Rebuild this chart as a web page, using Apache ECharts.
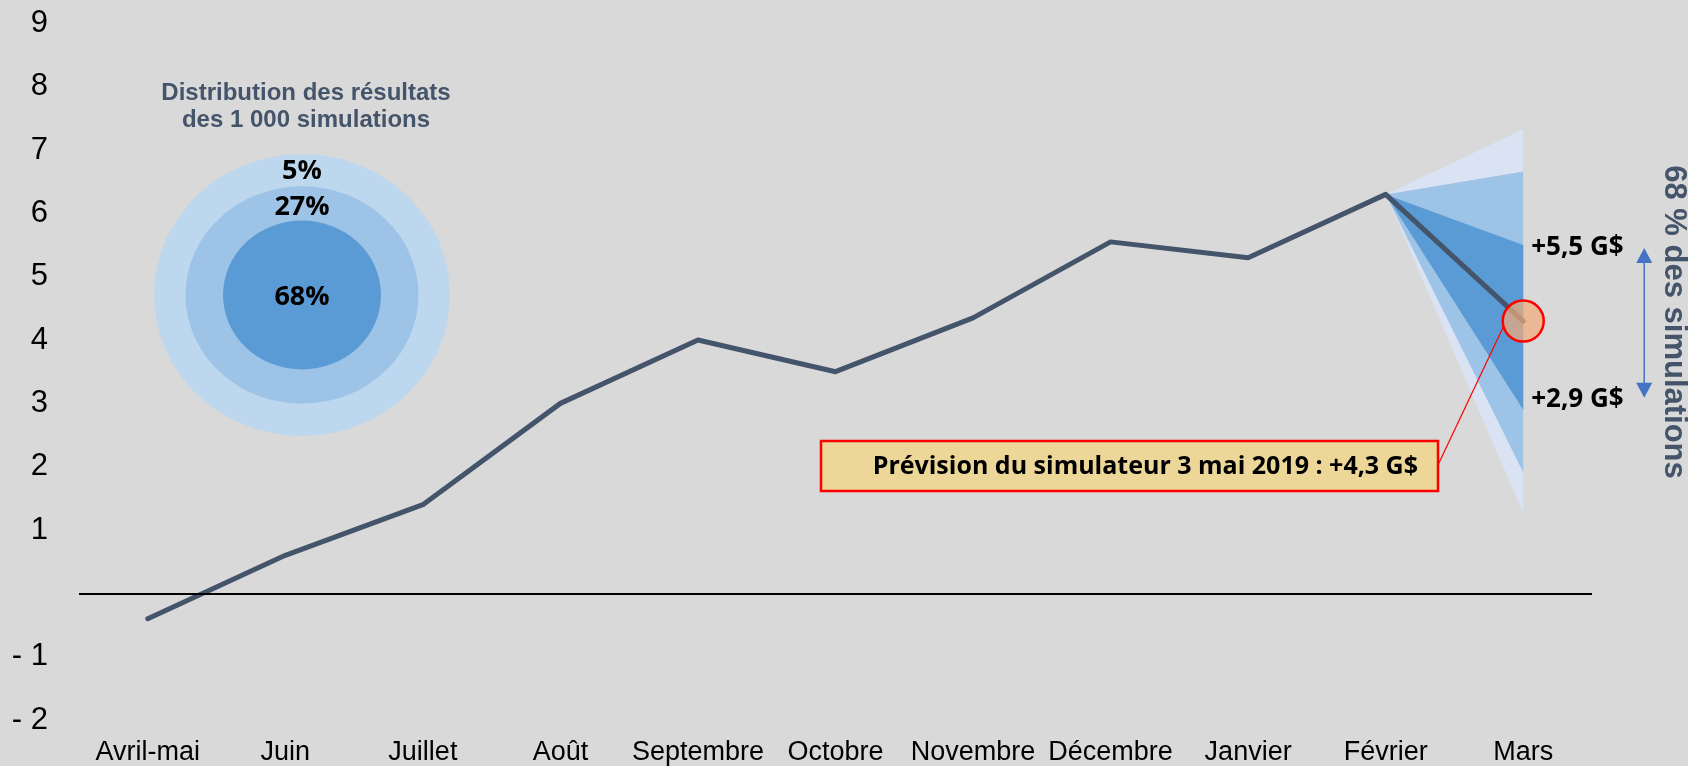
<!DOCTYPE html>
<html>
<head>
<meta charset="utf-8">
<script src="https://cdn.jsdelivr.net/npm/echarts@6/dist/echarts.min.js"></script>
<style>
html,body{margin:0;padding:0;background:#d9d9d9;}
#c{width:1688px;height:766px;}
</style>
</head>
<body>
<div id="c"></div>
<script>
// ---- data ----
const months = ['Avril-mai','Juin','Juillet','Août','Septembre','Octobre','Novembre','Décembre','Janvier','Février','Mars'];
const values = [-0.4, 0.6, 1.4, 3.0, 4.0, 3.5, 4.35, 5.55, 5.3, 6.3, 4.3];
const fanTop = [7.33, 6.66, 5.5];      // 5 %, 27 %, 68 % band upper ends (Mars)
const fanBottom = [1.27, 1.91, 2.9];   // band lower ends (Mars)
const bandShares = ['5%', '27%', '68%'];
const yTicks = [-2, -1, 0, 1, 2, 3, 4, 5, 6, 7, 8, 9];
const forecast = 4.3;
const rangeHigh = 5.5, rangeLow = 2.9;
const calloutText = 'Prévision du simulateur 3 mai 2019 : +4,3 G$';
const legendTitle = ['Distribution des résultats', 'des 1 000 simulations'];
const sideTitle = '68 % des simulations';

const fanColors = ['#dae3f3', '#9dc3e6', '#5b9bd5'];
const ringColors = ['#bdd7ee', '#9dc3e6', '#5b9bd5'];
const narrow = '"Open Sans", sans-serif';

const chart = echarts.init(document.getElementById('c'));
const last = months.length - 1;

chart.setOption({
  backgroundColor: '#d9d9d9',
  animation: false,
  grid: { left: 79, right: 96, top: 23.4, bottom: 45, containLabel: false },
  xAxis: {
    type: 'category', data: months, boundaryGap: true,
    axisLine: { show: false }, axisTick: { show: false },
    axisLabel: { color: '#000', fontSize: 27, fontFamily: '"Liberation Sans", Arial, sans-serif', margin: 19, interval: 0 }
  },
  yAxis: {
    type: 'value', min: yTicks[0], max: yTicks[yTicks.length - 1], interval: 1,
    splitLine: { show: false }, axisLine: { show: false }, axisTick: { show: false },
    axisLabel: {
      color: '#000', fontSize: 31, fontFamily: '"Liberation Sans", Arial, sans-serif', margin: 31,
      formatter: v => v === 0 ? '' : (v < 0 ? '- ' + (-v) : String(v))
    }
  },
  series: [
    {
      type: 'custom', z: 1, silent: true,
      data: fanTop.map((t, i) => [last, t, fanBottom[i], i]),
      encode: { x: 0, y: 1 },
      renderItem: (params, api) => {
        const i = api.value(3);
        const o = api.coord([last - 1, values[last - 1]]);
        const a = api.coord([last, api.value(1)]);
        const b = api.coord([last, api.value(2)]);
        return { type: 'polygon', shape: { points: [o, a, b] }, style: { fill: fanColors[i] } };
      }
    },
    {
      type: 'line', data: values, z: 3, symbol: 'none', silent: true,
      lineStyle: { color: '#44546a', width: 5, cap: 'round', join: 'round' },
      markLine: {
        silent: true, symbol: 'none', label: { show: false },
        lineStyle: { color: '#000', width: 2, type: 'solid' },
        data: [{ yAxis: 0 }]
      }
    },
    {
      type: 'scatter', z: 4, silent: true,
      data: [[last, forecast]], symbolSize: 41,
      itemStyle: { color: 'rgba(240,170,120,0.72)', borderColor: '#ff0000', borderWidth: 2.5, opacity: 1 }
    }
  ]
});

function px(x, y) { return chart.convertToPixel({ xAxisIndex: 0, yAxisIndex: 0 }, [x, y]); }
const pHi = px(last, rangeHigh), pLo = px(last, rangeLow), pF = px(last, forecast);
const arrowX = pHi[0] + 121;
const aTop = pHi[1] + 3, aBot = pLo[1] - 12;

// legend rings
const cx = 302, cy = 295;
const rings = [[148, 141], [116.5, 108.7], [79, 74.5]];
const graphics = [];
rings.forEach((r, i) => {
  graphics.push({ type: 'circle', x: cx, y: cy, scaleY: r[1] / r[0], shape: { cx: 0, cy: 0, r: r[0] }, style: { fill: ringColors[i] }, z: 10 });
});
const ringLabelY = [171, 207, 297];
bandShares.forEach((t, i) => {
  graphics.push({ type: 'text', x: cx, y: ringLabelY[i], z: 11,
    style: { text: t, fill: '#000', font: 'bold 27px ' + narrow, textAlign: 'center', textVerticalAlign: 'middle' } });
});
graphics.push({ type: 'text', x: 306, y: 107, z: 11,
  style: { text: legendTitle.join('\n'), fill: '#44546a', font: 'bold 24px "Liberation Sans", Arial, sans-serif', lineHeight: 27, textAlign: 'center', textVerticalAlign: 'middle' } });

// range labels
graphics.push({ type: 'text', x: pHi[0] + 8, y: pHi[1] + 3, z: 11,
  style: { text: '+5,5 G$', fill: '#000', font: 'bold 26px ' + narrow, textAlign: 'left', textVerticalAlign: 'middle' } });
graphics.push({ type: 'text', x: pLo[0] + 8, y: pLo[1] - 10, z: 11,
  style: { text: '+2,9 G$', fill: '#000', font: 'bold 26px ' + narrow, textAlign: 'left', textVerticalAlign: 'middle' } });

// double arrow
graphics.push({ type: 'line', z: 11, shape: { x1: arrowX, y1: aTop + 12, x2: arrowX, y2: aBot - 12 }, style: { stroke: '#4472c4', lineWidth: 1.5 } });
graphics.push({ type: 'polygon', z: 11, shape: { points: [[arrowX, aTop], [arrowX - 8, aTop + 15], [arrowX + 8, aTop + 15]] }, style: { fill: '#4472c4' } });
graphics.push({ type: 'polygon', z: 11, shape: { points: [[arrowX, aBot], [arrowX - 8, aBot - 15], [arrowX + 8, aBot - 15]] }, style: { fill: '#4472c4' } });

// vertical title
graphics.push({ type: 'text', x: 1674, y: 322, rotation: -Math.PI / 2, z: 11,
  style: { text: sideTitle, fill: '#44546a', font: 'bold 31px "Liberation Sans", Arial, sans-serif', textAlign: 'center', textVerticalAlign: 'middle' } });

// callout
const boxL = 821, boxT = 441, boxW = 617, boxH = 50;
graphics.push({ type: 'line', z: 12, shape: { x1: boxL + boxW, y1: boxT + boxH / 2 - 1, x2: pF[0] - 20, y2: pF[1] + 6 }, style: { stroke: '#ff0000', lineWidth: 1.2 } });
graphics.push({ type: 'rect', z: 12, shape: { x: boxL, y: boxT, width: boxW, height: boxH }, style: { fill: '#ecd698', stroke: '#ff0000', lineWidth: 2.5 } });
graphics.push({ type: 'text', z: 13, x: boxL + boxW - 20, y: boxT + boxH / 2 + 1,
  style: { text: calloutText, fill: '#000', font: 'bold 25px ' + narrow, textAlign: 'right', textVerticalAlign: 'middle' } });

chart.setOption({ graphic: { elements: graphics } });
</script>
</body>
</html>
